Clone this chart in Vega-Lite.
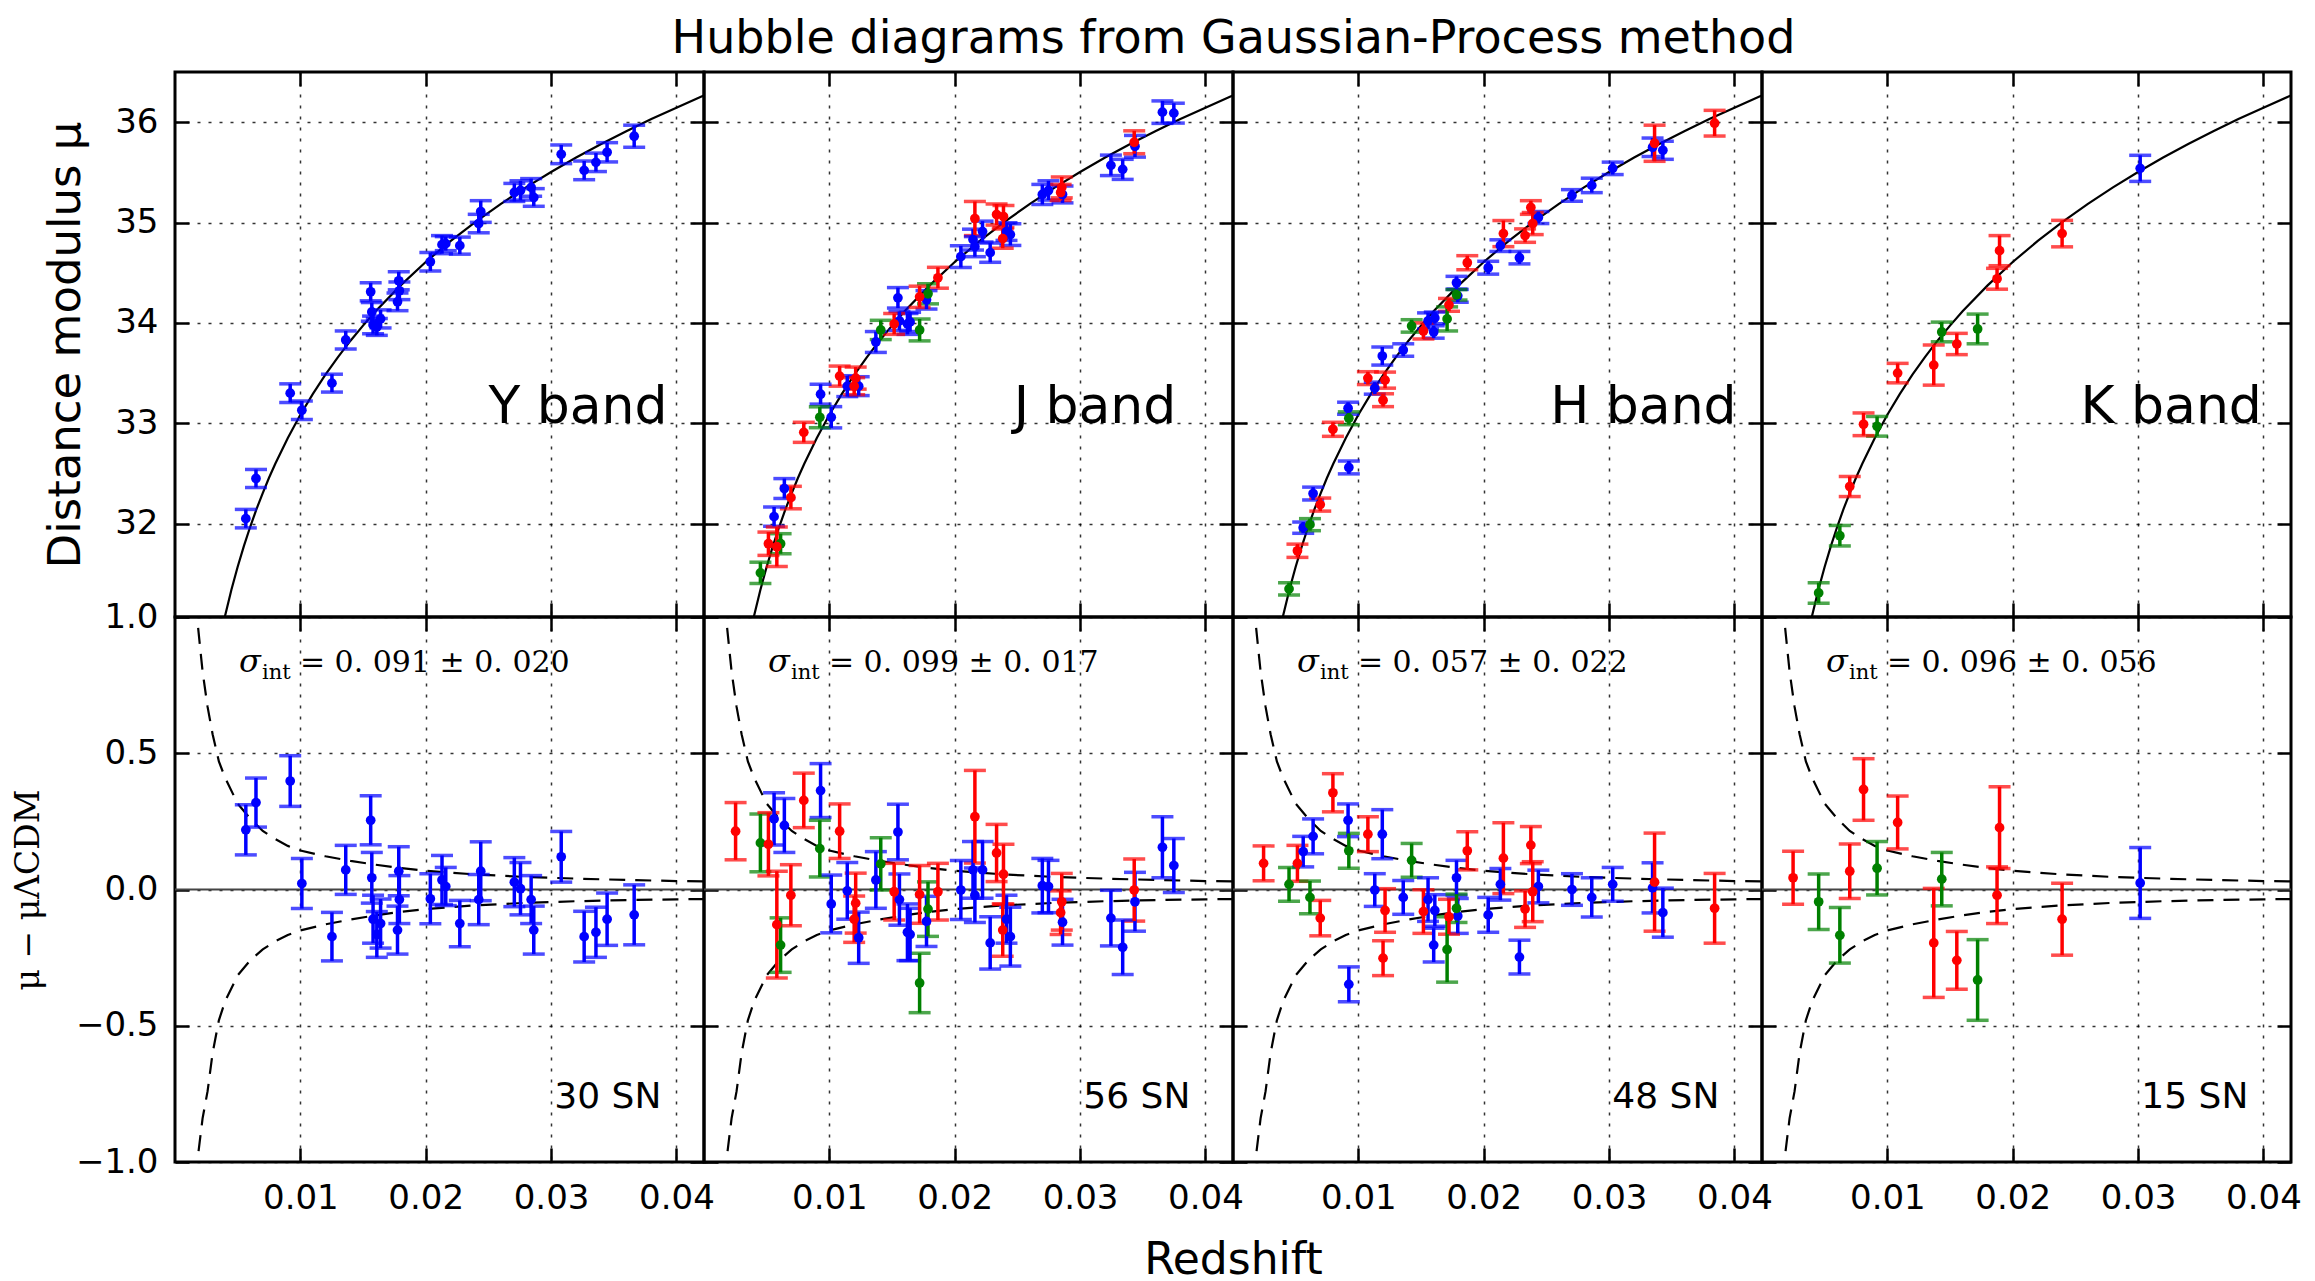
{
"$schema":"https://vega.github.io/schema/vega-lite/v6.json",
"background":"white",
"padding":{"left":10,"top":13,"right":10,"bottom":0},
"datasets":{
"sn":[
{"b":"Y","c":"b","z":0.00565,"mu":32.05,"r":0.219,"e":0.092},
{"b":"Y","c":"b","z":0.00646,"mu":32.45,"r":0.319,"e":0.09},
{"b":"Y","c":"b","z":0.00919,"mu":33.30,"r":0.398,"e":0.093},
{"b":"Y","c":"b","z":0.01012,"mu":33.13,"r":0.022,"e":0.092},
{"b":"Y","c":"b","z":0.01252,"mu":33.40,"r":-0.173,"e":0.089},
{"b":"Y","c":"b","z":0.01362,"mu":33.83,"r":0.072,"e":0.09},
{"b":"Y","c":"b","z":0.01561,"mu":34.31,"r":0.254,"e":0.09},
{"b":"Y","c":"b","z":0.0157,"mu":34.11,"r":0.043,"e":0.093},
{"b":"Y","c":"b","z":0.0158,"mu":33.98,"r":-0.109,"e":0.088},
{"b":"Y","c":"b","z":0.0161,"mu":33.96,"r":-0.165,"e":0.084},
{"b":"Y","c":"b","z":0.0164,"mu":34.04,"r":-0.125,"e":0.09},
{"b":"Y","c":"b","z":0.01785,"mu":34.42,"r":0.067,"e":0.09},
{"b":"Y","c":"b","z":0.0179,"mu":34.32,"r":-0.037,"e":0.088},
{"b":"Y","c":"b","z":0.01775,"mu":34.21,"r":-0.149,"e":0.088},
{"b":"Y","c":"b","z":0.02037,"mu":34.61,"r":-0.034,"e":0.092},
{"b":"Y","c":"b","z":0.0213,"mu":34.78,"r":0.035,"e":0.09},
{"b":"Y","c":"b","z":0.0216,"mu":34.79,"r":0.011,"e":0.07},
{"b":"Y","c":"b","z":0.02272,"mu":34.77,"r":-0.125,"e":0.085},
{"b":"Y","c":"b","z":0.02439,"mu":35.11,"r":0.067,"e":0.108},
{"b":"Y","c":"b","z":0.02423,"mu":34.99,"r":-0.037,"e":0.092},
{"b":"Y","c":"b","z":0.02707,"mu":35.30,"r":0.027,"e":0.09},
{"b":"Y","c":"b","z":0.02756,"mu":35.32,"r":0.003,"e":0.096},
{"b":"Y","c":"b","z":0.02841,"mu":35.35,"r":-0.037,"e":0.088},
{"b":"Y","c":"b","z":0.02862,"mu":35.25,"r":-0.149,"e":0.088},
{"b":"Y","c":"b","z":0.03081,"mu":35.68,"r":0.12,"e":0.093},
{"b":"Y","c":"b","z":0.03264,"mu":35.52,"r":-0.173,"e":0.093},
{"b":"Y","c":"b","z":0.03358,"mu":35.60,"r":-0.157,"e":0.092},
{"b":"Y","c":"b","z":0.03447,"mu":35.70,"r":-0.109,"e":0.096},
{"b":"Y","c":"b","z":0.03663,"mu":35.86,"r":-0.093,"e":0.11},
{"b":"J","c":"b","z":0.00559,"mu":32.07,"r":0.259,"e":0.096},
{"b":"J","c":"b","z":0.00641,"mu":32.35,"r":0.235,"e":0.099},
{"b":"J","c":"b","z":0.0093,"mu":33.29,"r":0.363,"e":0.099},
{"b":"J","c":"b","z":0.01015,"mu":33.06,"r":-0.053,"e":0.106},
{"b":"J","c":"b","z":0.01143,"mu":33.37,"r":-0.005,"e":0.104},
{"b":"J","c":"b","z":0.01234,"mu":33.37,"r":-0.177,"e":0.094},
{"b":"J","c":"b","z":0.01371,"mu":33.81,"r":0.035,"e":0.104},
{"b":"J","c":"b","z":0.01547,"mu":34.25,"r":0.211,"e":0.102},
{"b":"J","c":"b","z":0.01559,"mu":34.02,"r":-0.037,"e":0.094},
{"b":"J","c":"b","z":0.01623,"mu":33.99,"r":-0.157,"e":0.104},
{"b":"J","c":"b","z":0.01644,"mu":34.01,"r":-0.165,"e":0.096},
{"b":"J","c":"b","z":0.01775,"mu":34.23,"r":-0.117,"e":0.092},
{"b":"J","c":"b","z":0.02049,"mu":34.66,"r":-0.002,"e":0.108},
{"b":"J","c":"b","z":0.02146,"mu":34.83,"r":0.072,"e":0.104},
{"b":"J","c":"b","z":0.02161,"mu":34.76,"r":-0.021,"e":0.1},
{"b":"J","c":"b","z":0.02222,"mu":34.91,"r":0.072,"e":0.104},
{"b":"J","c":"b","z":0.02283,"mu":34.70,"r":-0.196,"e":0.096},
{"b":"J","c":"b","z":0.02413,"mu":34.91,"r":-0.109,"e":0.088},
{"b":"J","c":"b","z":0.02444,"mu":34.88,"r":-0.173,"e":0.108},
{"b":"J","c":"b","z":0.02699,"mu":35.28,"r":0.014,"e":0.1},
{"b":"J","c":"b","z":0.02748,"mu":35.32,"r":0.011,"e":0.096},
{"b":"J","c":"b","z":0.0286,"mu":35.28,"r":-0.12,"e":0.084},
{"b":"J","c":"b","z":0.03246,"mu":35.57,"r":-0.105,"e":0.102},
{"b":"J","c":"b","z":0.0334,"mu":35.53,"r":-0.212,"e":0.1},
{"b":"J","c":"b","z":0.03438,"mu":35.76,"r":-0.045,"e":0.108},
{"b":"J","c":"b","z":0.03657,"mu":36.10,"r":0.155,"e":0.112},
{"b":"J","c":"b","z":0.03748,"mu":36.09,"r":0.088,"e":0.099},
{"b":"J","c":"g","z":0.0045,"mu":31.51,"r":0.171,"e":0.106},
{"b":"J","c":"g","z":0.00611,"mu":31.80,"r":-0.204,"e":0.1},
{"b":"J","c":"g","z":0.00924,"mu":33.06,"r":0.15,"e":0.104},
{"b":"J","c":"g","z":0.0141,"mu":33.93,"r":0.094,"e":0.096},
{"b":"J","c":"g","z":0.0172,"mu":33.93,"r":-0.343,"e":0.109},
{"b":"J","c":"g","z":0.01787,"mu":34.29,"r":-0.072,"e":0.1},
{"b":"J","c":"r","z":0.00252,"mu":30.29,"r":0.214,"e":0.105},
{"b":"J","c":"r","z":0.00514,"mu":31.80,"r":0.166,"e":0.116},
{"b":"J","c":"r","z":0.00581,"mu":31.77,"r":-0.129,"e":0.196},
{"b":"J","c":"r","z":0.00693,"mu":32.26,"r":-0.021,"e":0.112},
{"b":"J","c":"r","z":0.00796,"mu":32.91,"r":0.327,"e":0.1},
{"b":"J","c":"r","z":0.01082,"mu":33.47,"r":0.214,"e":0.1},
{"b":"J","c":"r","z":0.0121,"mu":33.45,"r":-0.05,"e":0.11},
{"b":"J","c":"r","z":0.01198,"mu":33.37,"r":-0.109,"e":0.085},
{"b":"J","c":"r","z":0.01517,"mu":33.99,"r":-0.008,"e":0.104},
{"b":"J","c":"r","z":0.0172,"mu":34.26,"r":-0.018,"e":0.106},
{"b":"J","c":"r","z":0.01866,"mu":34.45,"r":-0.008,"e":0.104},
{"b":"J","c":"r","z":0.02161,"mu":35.04,"r":0.267,"e":0.17},
{"b":"J","c":"r","z":0.02334,"mu":35.08,"r":0.134,"e":0.105},
{"b":"J","c":"r","z":0.02389,"mu":35.06,"r":0.056,"e":0.11},
{"b":"J","c":"r","z":0.02383,"mu":34.84,"r":-0.149,"e":0.096},
{"b":"J","c":"r","z":0.02854,"mu":35.35,"r":-0.045,"e":0.104},
{"b":"J","c":"r","z":0.02845,"mu":35.30,"r":-0.085,"e":0.08},
{"b":"J","c":"r","z":0.03432,"mu":35.80,"r":-0.002,"e":0.114},
{"b":"H","c":"b","z":0.0056,"mu":31.96,"r":0.139,"e":0.056},
{"b":"H","c":"b","z":0.00639,"mu":32.30,"r":0.195,"e":0.064},
{"b":"H","c":"b","z":0.00918,"mu":33.15,"r":0.254,"e":0.06},
{"b":"H","c":"b","z":0.00924,"mu":32.56,"r":-0.348,"e":0.064},
{"b":"H","c":"b","z":0.01191,"mu":33.67,"r":0.203,"e":0.09},
{"b":"H","c":"b","z":0.01131,"mu":33.35,"r":-0.002,"e":0.06},
{"b":"H","c":"b","z":0.01358,"mu":33.73,"r":-0.029,"e":0.062},
{"b":"H","c":"b","z":0.01556,"mu":34.02,"r":-0.037,"e":0.08},
{"b":"H","c":"b","z":0.0161,"mu":34.05,"r":-0.077,"e":0.058},
{"b":"H","c":"b","z":0.01601,"mu":33.91,"r":-0.204,"e":0.062},
{"b":"H","c":"b","z":0.01783,"mu":34.40,"r":0.043,"e":0.064},
{"b":"H","c":"b","z":0.01793,"mu":34.27,"r":-0.097,"e":0.064},
{"b":"H","c":"b","z":0.02036,"mu":34.55,"r":-0.093,"e":0.064},
{"b":"H","c":"b","z":0.02133,"mu":34.77,"r":0.019,"e":0.058},
{"b":"H","c":"b","z":0.02285,"mu":34.65,"r":-0.248,"e":0.062},
{"b":"H","c":"b","z":0.02436,"mu":35.05,"r":0.011,"e":0.06},
{"b":"H","c":"b","z":0.02704,"mu":35.27,"r":0.0,"e":0.058},
{"b":"H","c":"b","z":0.02862,"mu":35.37,"r":-0.029,"e":0.072},
{"b":"H","c":"b","z":0.03029,"mu":35.54,"r":0.019,"e":0.062},
{"b":"H","c":"b","z":0.03347,"mu":35.75,"r":0.006,"e":0.092},
{"b":"H","c":"b","z":0.03429,"mu":35.72,"r":-0.085,"e":0.09},
{"b":"H","c":"g","z":0.00447,"mu":31.35,"r":0.019,"e":0.062},
{"b":"H","c":"g","z":0.00614,"mu":31.99,"r":-0.029,"e":0.06},
{"b":"H","c":"g","z":0.00924,"mu":33.05,"r":0.142,"e":0.064},
{"b":"H","c":"g","z":0.01425,"mu":33.97,"r":0.107,"e":0.062},
{"b":"H","c":"g","z":0.01708,"mu":34.04,"r":-0.22,"e":0.12},
{"b":"H","c":"g","z":0.01783,"mu":34.28,"r":-0.069,"e":0.052},
{"b":"H","c":"r","z":0.00244,"mu":30.10,"r":0.096,"e":0.064},
{"b":"H","c":"r","z":0.00514,"mu":31.73,"r":0.096,"e":0.066},
{"b":"H","c":"r","z":0.00696,"mu":32.19,"r":-0.105,"e":0.065},
{"b":"H","c":"r","z":0.00797,"mu":32.94,"r":0.355,"e":0.07},
{"b":"H","c":"r","z":0.01076,"mu":33.45,"r":0.203,"e":0.064},
{"b":"H","c":"r","z":0.01213,"mu":33.43,"r":-0.077,"e":0.08},
{"b":"H","c":"r","z":0.01197,"mu":33.23,"r":-0.252,"e":0.064},
{"b":"H","c":"r","z":0.01519,"mu":33.92,"r":-0.081,"e":0.08},
{"b":"H","c":"r","z":0.01723,"mu":34.18,"r":-0.1,"e":0.064},
{"b":"H","c":"r","z":0.01869,"mu":34.60,"r":0.142,"e":0.07},
{"b":"H","c":"r","z":0.02157,"mu":34.89,"r":0.115,"e":0.13},
{"b":"H","c":"r","z":0.0233,"mu":34.87,"r":-0.072,"e":0.067},
{"b":"H","c":"r","z":0.02376,"mu":35.15,"r":0.163,"e":0.068},
{"b":"H","c":"r","z":0.02391,"mu":34.99,"r":-0.008,"e":0.11},
{"b":"H","c":"r","z":0.03363,"mu":35.79,"r":0.027,"e":0.18},
{"b":"H","c":"r","z":0.03842,"mu":35.99,"r":-0.069,"e":0.128},
{"b":"K","c":"g","z":0.00452,"mu":31.31,"r":-0.045,"e":0.102},
{"b":"K","c":"g","z":0.00621,"mu":31.88,"r":-0.168,"e":0.102},
{"b":"K","c":"g","z":0.00918,"mu":32.97,"r":0.078,"e":0.098},
{"b":"K","c":"g","z":0.01434,"mu":33.91,"r":0.038,"e":0.098},
{"b":"K","c":"g","z":0.0172,"mu":33.94,"r":-0.332,"e":0.148},
{"b":"K","c":"r","z":0.00248,"mu":30.2,"r":0.043,"e":0.097},
{"b":"K","c":"r","z":0.007,"mu":32.37,"r":0.067,"e":0.1},
{"b":"K","c":"r","z":0.0081,"mu":32.99,"r":0.367,"e":0.113},
{"b":"K","c":"r","z":0.01082,"mu":33.50,"r":0.246,"e":0.097},
{"b":"K","c":"r","z":0.0137,"mu":33.58,"r":-0.196,"e":0.2},
{"b":"K","c":"r","z":0.01554,"mu":33.79,"r":-0.26,"e":0.106},
{"b":"K","c":"r","z":0.01895,"mu":34.72,"r":0.227,"e":0.15},
{"b":"K","c":"r","z":0.01875,"mu":34.44,"r":-0.021,"e":0.104},
{"b":"K","c":"r","z":0.02394,"mu":34.89,"r":-0.109,"e":0.132},
{"b":"K","c":"b","z":0.03017,"mu":35.54,"r":0.024,"e":0.13}
],
"curve":[
{"z":0.0039,"mu":31.03},{"z":0.004,"mu":31.085},{"z":0.0045,"mu":31.342},{"z":0.005,"mu":31.571},{"z":0.0055,"mu":31.779},{"z":0.006,"mu":31.969},{"z":0.0065,"mu":32.144},{"z":0.007,"mu":32.305},{"z":0.0075,"mu":32.457},{"z":0.008,"mu":32.596},{"z":0.009,"mu":32.854},{"z":0.01,"mu":33.085},{"z":0.011,"mu":33.293},{"z":0.012,"mu":33.484},{"z":0.013,"mu":33.66},{"z":0.014,"mu":33.823},{"z":0.015,"mu":33.973},{"z":0.016,"mu":34.116},{"z":0.018,"mu":34.374},{"z":0.02,"mu":34.607},{"z":0.022,"mu":34.817},{"z":0.024,"mu":35.009},{"z":0.026,"mu":35.187},{"z":0.028,"mu":35.351},{"z":0.03,"mu":35.504},{"z":0.032,"mu":35.648},{"z":0.034,"mu":35.783},{"z":0.036,"mu":35.91},{"z":0.038,"mu":36.031},{"z":0.04,"mu":36.145},{"z":0.042,"mu":36.255},{"z":0.0425,"mu":36.281}
],
"env":[
{"s":"u","z":0.0015,"v":1.15},{"s":"u","z":0.0018,"v":0.98},{"s":"u","z":0.0022,"v":0.8},{"s":"u","z":0.0026,"v":0.67},{"s":"u","z":0.003,"v":0.57},{"s":"u","z":0.0035,"v":0.47},{"s":"u","z":0.004,"v":0.41},{"s":"u","z":0.005,"v":0.315},{"s":"u","z":0.006,"v":0.26},{"s":"u","z":0.007,"v":0.215},{"s":"u","z":0.008,"v":0.185},{"s":"u","z":0.009,"v":0.16},{"s":"u","z":0.01,"v":0.143},{"s":"u","z":0.012,"v":0.122},{"s":"u","z":0.014,"v":0.105},{"s":"u","z":0.016,"v":0.091},{"s":"u","z":0.018,"v":0.079},{"s":"u","z":0.02,"v":0.069},{"s":"u","z":0.024,"v":0.055},{"s":"u","z":0.028,"v":0.046},{"s":"u","z":0.032,"v":0.04},{"s":"u","z":0.036,"v":0.035},{"s":"u","z":0.04,"v":0.031},{"s":"u","z":0.0422,"v":0.03},
{"s":"l","z":0.0015,"v":-1.15},{"s":"l","z":0.0018,"v":-0.99},{"s":"l","z":0.0022,"v":-0.84},{"s":"l","z":0.0026,"v":-0.74},{"s":"l","z":0.003,"v":-0.6},{"s":"l","z":0.0035,"v":-0.48},{"s":"l","z":0.004,"v":-0.41},{"s":"l","z":0.005,"v":-0.315},{"s":"l","z":0.006,"v":-0.26},{"s":"l","z":0.007,"v":-0.22},{"s":"l","z":0.008,"v":-0.19},{"s":"l","z":0.009,"v":-0.167},{"s":"l","z":0.01,"v":-0.15},{"s":"l","z":0.012,"v":-0.128},{"s":"l","z":0.014,"v":-0.11},{"s":"l","z":0.016,"v":-0.095},{"s":"l","z":0.018,"v":-0.082},{"s":"l","z":0.02,"v":-0.072},{"s":"l","z":0.024,"v":-0.058},{"s":"l","z":0.028,"v":-0.049},{"s":"l","z":0.032,"v":-0.043},{"s":"l","z":0.036,"v":-0.039},{"s":"l","z":0.04,"v":-0.036},{"s":"l","z":0.0422,"v":-0.035}
],
"lab":[
{"b":"Y","band":"Y band","n":"30 SN","sig":"= 0. 091 ± 0. 020"},
{"b":"J","band":"J band","n":"56 SN","sig":"= 0. 099 ± 0. 017"},
{"b":"H","band":"H band","n":"48 SN","sig":"= 0. 057 ± 0. 022"},
{"b":"K","band":"K band","n":"15 SN","sig":"= 0. 096 ± 0. 056"}
]
},
"columns":4,
"spacing":0,
"bounds":"flush",
"concat":[
{"width":529,"height":545,"layer":[
 {"data":{"name":"curve"},"mark":{"type":"line","color":"black","strokeWidth":2.2,"clip":true},"encoding":{"x":{"field":"z","type":"quantitative","scale":{"domain":[0,0.0422],"nice":false,"zero":false},"axis":null},"y":{"field":"mu","type":"quantitative","scale":{"domain":[31.07,36.5],"nice":false,"zero":false},"axis":null}}},
 {"data":{"name":"sn"},"transform":[{"filter":"datum.b=='Y' && datum.mu>31.1"}],"mark":{"type":"errorbar","ticks":true,"size":22,"thickness":3.5,"rule":{"strokeWidth":3.5}},"encoding":{"x":{"field":"z","type":"quantitative","scale":{"domain":[0,0.0422],"nice":false,"zero":false},"axis":{"orient":"bottom","values":[0.01,0.02,0.03,0.04],"labels":false,"tickSize":-14,"grid":true,"title":null}},"y":{"field":"mu","type":"quantitative","scale":{"domain":[31.07,36.5],"nice":false,"zero":false},"axis":{"orient":"left","values":[32,33,34,35,36],"format":"d","labelPadding":31,"tickSize":-14,"grid":true,"title":"Distance modulus μ","titlePadding":26}},"yError":{"field":"e"},"color":{"field":"c","type":"nominal","scale":{"domain":["b","r","g"],"range":["#0000ff","#ff0000","#008000"]},"legend":null}}},
 {"data":{"name":"sn"},"transform":[{"filter":"datum.b=='Y' && datum.mu>31.1"}],"mark":{"type":"circle","size":95,"opacity":1},"encoding":{"x":{"field":"z","type":"quantitative","scale":{"domain":[0,0.0422],"nice":false,"zero":false},"axis":{"orient":"top","values":[0.01,0.02,0.03,0.04],"labels":false,"tickSize":-14,"grid":false,"title":null}},"y":{"field":"mu","type":"quantitative","scale":{"domain":[31.07,36.5],"nice":false,"zero":false},"axis":{"orient":"right","values":[32,33,34,35,36],"labels":false,"tickSize":-14,"grid":false,"title":null}},"color":{"field":"c","type":"nominal","scale":{"domain":["b","r","g"],"range":["#0000ff","#ff0000","#008000"]},"legend":null}}},
 {"data":{"name":"lab"},"transform":[{"filter":"datum.b=='Y'"}],"mark":{"type":"text","align":"left","baseline":"alphabetic","fontSize":52,"color":"black"},"encoding":{"x":{"datum":0.025,"scale":{"domain":[0,0.0422],"nice":false,"zero":false},"axis":null},"y":{"datum":33,"scale":{"domain":[31.07,36.5],"nice":false,"zero":false},"axis":null},"text":{"field":"band"}}}
],"resolve":{"axis":{"x":"independent","y":"independent"}}},
{"width":529,"height":545,"layer":[
 {"data":{"name":"curve"},"mark":{"type":"line","color":"black","strokeWidth":2.2,"clip":true},"encoding":{"x":{"field":"z","type":"quantitative","scale":{"domain":[0,0.0422],"nice":false,"zero":false},"axis":null},"y":{"field":"mu","type":"quantitative","scale":{"domain":[31.07,36.5],"nice":false,"zero":false},"axis":null}}},
 {"data":{"name":"sn"},"transform":[{"filter":"datum.b=='J' && datum.mu>31.1"}],"mark":{"type":"errorbar","ticks":true,"size":22,"thickness":3.5,"rule":{"strokeWidth":3.5}},"encoding":{"x":{"field":"z","type":"quantitative","scale":{"domain":[0,0.0422],"nice":false,"zero":false},"axis":{"orient":"bottom","values":[0.01,0.02,0.03,0.04],"labels":false,"tickSize":-14,"grid":true,"title":null}},"y":{"field":"mu","type":"quantitative","scale":{"domain":[31.07,36.5],"nice":false,"zero":false},"axis":{"orient":"left","values":[32,33,34,35,36],"labels":false,"tickSize":-14,"grid":true,"title":null}},"yError":{"field":"e"},"color":{"field":"c","type":"nominal","scale":{"domain":["b","r","g"],"range":["#0000ff","#ff0000","#008000"]},"legend":null}}},
 {"data":{"name":"sn"},"transform":[{"filter":"datum.b=='J' && datum.mu>31.1"}],"mark":{"type":"circle","size":95,"opacity":1},"encoding":{"x":{"field":"z","type":"quantitative","scale":{"domain":[0,0.0422],"nice":false,"zero":false},"axis":{"orient":"top","values":[0.01,0.02,0.03,0.04],"labels":false,"tickSize":-14,"grid":false,"title":"Hubble diagrams from Gaussian-Process method","titleFontSize":46,"titleX":529,"titleY":-20,"titleAlign":"center","titleBaseline":"alphabetic","titleAngle":0}},"y":{"field":"mu","type":"quantitative","scale":{"domain":[31.07,36.5],"nice":false,"zero":false},"axis":{"orient":"right","values":[32,33,34,35,36],"labels":false,"tickSize":-14,"grid":false,"title":null}},"color":{"field":"c","type":"nominal","scale":{"domain":["b","r","g"],"range":["#0000ff","#ff0000","#008000"]},"legend":null}}},
 {"data":{"name":"lab"},"transform":[{"filter":"datum.b=='J'"}],"mark":{"type":"text","align":"left","baseline":"alphabetic","fontSize":52,"color":"black"},"encoding":{"x":{"datum":0.0247,"scale":{"domain":[0,0.0422],"nice":false,"zero":false},"axis":null},"y":{"datum":33,"scale":{"domain":[31.07,36.5],"nice":false,"zero":false},"axis":null},"text":{"field":"band"}}}
],"resolve":{"axis":{"x":"independent","y":"independent"}}},
{"width":529,"height":545,"layer":[
 {"data":{"name":"curve"},"mark":{"type":"line","color":"black","strokeWidth":2.2,"clip":true},"encoding":{"x":{"field":"z","type":"quantitative","scale":{"domain":[0,0.0422],"nice":false,"zero":false},"axis":null},"y":{"field":"mu","type":"quantitative","scale":{"domain":[31.07,36.5],"nice":false,"zero":false},"axis":null}}},
 {"data":{"name":"sn"},"transform":[{"filter":"datum.b=='H' && datum.mu>31.1"}],"mark":{"type":"errorbar","ticks":true,"size":22,"thickness":3.5,"rule":{"strokeWidth":3.5}},"encoding":{"x":{"field":"z","type":"quantitative","scale":{"domain":[0,0.0422],"nice":false,"zero":false},"axis":{"orient":"bottom","values":[0.01,0.02,0.03,0.04],"labels":false,"tickSize":-14,"grid":true,"title":null}},"y":{"field":"mu","type":"quantitative","scale":{"domain":[31.07,36.5],"nice":false,"zero":false},"axis":{"orient":"left","values":[32,33,34,35,36],"labels":false,"tickSize":-14,"grid":true,"title":null}},"yError":{"field":"e"},"color":{"field":"c","type":"nominal","scale":{"domain":["b","r","g"],"range":["#0000ff","#ff0000","#008000"]},"legend":null}}},
 {"data":{"name":"sn"},"transform":[{"filter":"datum.b=='H' && datum.mu>31.1"}],"mark":{"type":"circle","size":95,"opacity":1},"encoding":{"x":{"field":"z","type":"quantitative","scale":{"domain":[0,0.0422],"nice":false,"zero":false},"axis":{"orient":"top","values":[0.01,0.02,0.03,0.04],"labels":false,"tickSize":-14,"grid":false,"title":null}},"y":{"field":"mu","type":"quantitative","scale":{"domain":[31.07,36.5],"nice":false,"zero":false},"axis":{"orient":"right","values":[32,33,34,35,36],"labels":false,"tickSize":-14,"grid":false,"title":null}},"color":{"field":"c","type":"nominal","scale":{"domain":["b","r","g"],"range":["#0000ff","#ff0000","#008000"]},"legend":null}}},
 {"data":{"name":"lab"},"transform":[{"filter":"datum.b=='H'"}],"mark":{"type":"text","align":"left","baseline":"alphabetic","fontSize":52,"color":"black"},"encoding":{"x":{"datum":0.0253,"scale":{"domain":[0,0.0422],"nice":false,"zero":false},"axis":null},"y":{"datum":33,"scale":{"domain":[31.07,36.5],"nice":false,"zero":false},"axis":null},"text":{"field":"band"}}}
],"resolve":{"axis":{"x":"independent","y":"independent"}}},
{"width":529,"height":545,"layer":[
 {"data":{"name":"curve"},"mark":{"type":"line","color":"black","strokeWidth":2.2,"clip":true},"encoding":{"x":{"field":"z","type":"quantitative","scale":{"domain":[0,0.0422],"nice":false,"zero":false},"axis":null},"y":{"field":"mu","type":"quantitative","scale":{"domain":[31.07,36.5],"nice":false,"zero":false},"axis":null}}},
 {"data":{"name":"sn"},"transform":[{"filter":"datum.b=='K' && datum.mu>31.1"}],"mark":{"type":"errorbar","ticks":true,"size":22,"thickness":3.5,"rule":{"strokeWidth":3.5}},"encoding":{"x":{"field":"z","type":"quantitative","scale":{"domain":[0,0.0422],"nice":false,"zero":false},"axis":{"orient":"bottom","values":[0.01,0.02,0.03,0.04],"labels":false,"tickSize":-14,"grid":true,"title":null}},"y":{"field":"mu","type":"quantitative","scale":{"domain":[31.07,36.5],"nice":false,"zero":false},"axis":{"orient":"left","values":[32,33,34,35,36],"labels":false,"tickSize":-14,"grid":true,"title":null}},"yError":{"field":"e"},"color":{"field":"c","type":"nominal","scale":{"domain":["b","r","g"],"range":["#0000ff","#ff0000","#008000"]},"legend":null}}},
 {"data":{"name":"sn"},"transform":[{"filter":"datum.b=='K' && datum.mu>31.1"}],"mark":{"type":"circle","size":95,"opacity":1},"encoding":{"x":{"field":"z","type":"quantitative","scale":{"domain":[0,0.0422],"nice":false,"zero":false},"axis":{"orient":"top","values":[0.01,0.02,0.03,0.04],"labels":false,"tickSize":-14,"grid":false,"title":null}},"y":{"field":"mu","type":"quantitative","scale":{"domain":[31.07,36.5],"nice":false,"zero":false},"axis":{"orient":"right","values":[32,33,34,35,36],"labels":false,"tickSize":-14,"grid":false,"title":null}},"color":{"field":"c","type":"nominal","scale":{"domain":["b","r","g"],"range":["#0000ff","#ff0000","#008000"]},"legend":null}}},
 {"data":{"name":"lab"},"transform":[{"filter":"datum.b=='K'"}],"mark":{"type":"text","align":"left","baseline":"alphabetic","fontSize":52,"color":"black"},"encoding":{"x":{"datum":0.0254,"scale":{"domain":[0,0.0422],"nice":false,"zero":false},"axis":null},"y":{"datum":33,"scale":{"domain":[31.07,36.5],"nice":false,"zero":false},"axis":null},"text":{"field":"band"}}}
],"resolve":{"axis":{"x":"independent","y":"independent"}}},
{"width":529,"height":545,"layer":[
 {"data":{"name":"lab"},"transform":[{"filter":"datum.b=='Y'"}],"mark":{"type":"rule","color":"#444444","strokeWidth":2},"encoding":{"y":{"datum":0,"scale":{"domain":[-1,1],"nice":false,"zero":false},"axis":null}}},
 {"data":{"name":"env"},"mark":{"type":"line","color":"black","strokeWidth":2.2,"strokeDash":[16,10],"clip":true},"encoding":{"x":{"field":"z","type":"quantitative","scale":{"domain":[0,0.0422],"nice":false,"zero":false},"axis":null},"y":{"field":"v","type":"quantitative","scale":{"domain":[-1,1],"nice":false,"zero":false},"axis":null},"detail":{"field":"s"}}},
 {"data":{"name":"sn"},"transform":[{"filter":"datum.b=='Y'"}],"mark":{"type":"errorbar","ticks":true,"size":22,"thickness":3.5,"rule":{"strokeWidth":3.5}},"encoding":{"x":{"field":"z","type":"quantitative","scale":{"domain":[0,0.0422],"nice":false,"zero":false},"axis":{"orient":"bottom","values":[0.01,0.02,0.03,0.04],"format":".2f","labelPadding":33,"tickSize":-14,"grid":true,"title":null}},"y":{"field":"r","type":"quantitative","scale":{"domain":[-1,1],"nice":false,"zero":false},"axis":{"orient":"left","values":[-1,-0.5,0,0.5,1],"format":".1f","labelPadding":31,"tickSize":-14,"grid":true,"title":"μ − μΛCDM","titleFont":"DejaVu Serif","titleFontSize":33,"titlePadding":30}},"yError":{"field":"e"},"color":{"field":"c","type":"nominal","scale":{"domain":["b","r","g"],"range":["#0000ff","#ff0000","#008000"]},"legend":null}}},
 {"data":{"name":"sn"},"transform":[{"filter":"datum.b=='Y'"}],"mark":{"type":"circle","size":95,"opacity":1},"encoding":{"x":{"field":"z","type":"quantitative","scale":{"domain":[0,0.0422],"nice":false,"zero":false},"axis":{"orient":"top","values":[0.01,0.02,0.03,0.04],"labels":false,"tickSize":-14,"grid":false,"title":null}},"y":{"field":"r","type":"quantitative","scale":{"domain":[-1,1],"nice":false,"zero":false},"axis":{"orient":"right","values":[-1,-0.5,0,0.5,1],"labels":false,"tickSize":-14,"grid":false,"title":null}},"color":{"field":"c","type":"nominal","scale":{"domain":["b","r","g"],"range":["#0000ff","#ff0000","#008000"]},"legend":null}}},
 {"data":{"name":"lab"},"transform":[{"filter":"datum.b=='Y'"}],"mark":{"type":"text","text":"σ","align":"left","baseline":"alphabetic","font":"DejaVu Serif","fontStyle":"italic","fontSize":32,"color":"black"},"encoding":{"x":{"datum":0.0051,"scale":{"domain":[0,0.0422],"nice":false,"zero":false},"axis":null},"y":{"datum":0.8,"scale":{"domain":[-1,1],"nice":false,"zero":false},"axis":null}}},
 {"data":{"name":"lab"},"transform":[{"filter":"datum.b=='Y'"}],"mark":{"type":"text","text":"int","align":"left","baseline":"alphabetic","font":"DejaVu Serif","fontSize":21,"dx":23,"dy":7,"color":"black"},"encoding":{"x":{"datum":0.0051,"scale":{"domain":[0,0.0422],"nice":false,"zero":false},"axis":null},"y":{"datum":0.8,"scale":{"domain":[-1,1],"nice":false,"zero":false},"axis":null}}},
 {"data":{"name":"lab"},"transform":[{"filter":"datum.b=='Y'"}],"mark":{"type":"text","align":"left","baseline":"alphabetic","font":"DejaVu Serif","fontSize":30,"dx":61,"color":"black"},"encoding":{"x":{"datum":0.0051,"scale":{"domain":[0,0.0422],"nice":false,"zero":false},"axis":null},"y":{"datum":0.8,"scale":{"domain":[-1,1],"nice":false,"zero":false},"axis":null},"text":{"field":"sig"}}},
 {"data":{"name":"lab"},"transform":[{"filter":"datum.b=='Y'"}],"mark":{"type":"text","align":"right","baseline":"alphabetic","fontSize":36,"color":"black"},"encoding":{"x":{"datum":0.0388,"scale":{"domain":[0,0.0422],"nice":false,"zero":false},"axis":null},"y":{"datum":-0.8,"scale":{"domain":[-1,1],"nice":false,"zero":false},"axis":null},"text":{"field":"n"}}}
],"resolve":{"axis":{"x":"independent","y":"independent"}}},
{"width":529,"height":545,"layer":[
 {"data":{"name":"lab"},"transform":[{"filter":"datum.b=='J'"}],"mark":{"type":"rule","color":"#444444","strokeWidth":2},"encoding":{"y":{"datum":0,"scale":{"domain":[-1,1],"nice":false,"zero":false},"axis":null}}},
 {"data":{"name":"env"},"mark":{"type":"line","color":"black","strokeWidth":2.2,"strokeDash":[16,10],"clip":true},"encoding":{"x":{"field":"z","type":"quantitative","scale":{"domain":[0,0.0422],"nice":false,"zero":false},"axis":null},"y":{"field":"v","type":"quantitative","scale":{"domain":[-1,1],"nice":false,"zero":false},"axis":null},"detail":{"field":"s"}}},
 {"data":{"name":"sn"},"transform":[{"filter":"datum.b=='J'"}],"mark":{"type":"errorbar","ticks":true,"size":22,"thickness":3.5,"rule":{"strokeWidth":3.5}},"encoding":{"x":{"field":"z","type":"quantitative","scale":{"domain":[0,0.0422],"nice":false,"zero":false},"axis":{"orient":"bottom","values":[0.01,0.02,0.03,0.04],"format":".2f","labelPadding":33,"tickSize":-14,"grid":true,"title":"Redshift","titleFontSize":44,"titleX":529,"titleY":111,"titleAlign":"center","titleBaseline":"alphabetic","titleAngle":0}},"y":{"field":"r","type":"quantitative","scale":{"domain":[-1,1],"nice":false,"zero":false},"axis":{"orient":"left","values":[-1,-0.5,0,0.5,1],"labels":false,"tickSize":-14,"grid":true,"title":null}},"yError":{"field":"e"},"color":{"field":"c","type":"nominal","scale":{"domain":["b","r","g"],"range":["#0000ff","#ff0000","#008000"]},"legend":null}}},
 {"data":{"name":"sn"},"transform":[{"filter":"datum.b=='J'"}],"mark":{"type":"circle","size":95,"opacity":1},"encoding":{"x":{"field":"z","type":"quantitative","scale":{"domain":[0,0.0422],"nice":false,"zero":false},"axis":{"orient":"top","values":[0.01,0.02,0.03,0.04],"labels":false,"tickSize":-14,"grid":false,"title":null}},"y":{"field":"r","type":"quantitative","scale":{"domain":[-1,1],"nice":false,"zero":false},"axis":{"orient":"right","values":[-1,-0.5,0,0.5,1],"labels":false,"tickSize":-14,"grid":false,"title":null}},"color":{"field":"c","type":"nominal","scale":{"domain":["b","r","g"],"range":["#0000ff","#ff0000","#008000"]},"legend":null}}},
 {"data":{"name":"lab"},"transform":[{"filter":"datum.b=='J'"}],"mark":{"type":"text","text":"σ","align":"left","baseline":"alphabetic","font":"DejaVu Serif","fontStyle":"italic","fontSize":32,"color":"black"},"encoding":{"x":{"datum":0.0051,"scale":{"domain":[0,0.0422],"nice":false,"zero":false},"axis":null},"y":{"datum":0.8,"scale":{"domain":[-1,1],"nice":false,"zero":false},"axis":null}}},
 {"data":{"name":"lab"},"transform":[{"filter":"datum.b=='J'"}],"mark":{"type":"text","text":"int","align":"left","baseline":"alphabetic","font":"DejaVu Serif","fontSize":21,"dx":23,"dy":7,"color":"black"},"encoding":{"x":{"datum":0.0051,"scale":{"domain":[0,0.0422],"nice":false,"zero":false},"axis":null},"y":{"datum":0.8,"scale":{"domain":[-1,1],"nice":false,"zero":false},"axis":null}}},
 {"data":{"name":"lab"},"transform":[{"filter":"datum.b=='J'"}],"mark":{"type":"text","align":"left","baseline":"alphabetic","font":"DejaVu Serif","fontSize":30,"dx":61,"color":"black"},"encoding":{"x":{"datum":0.0051,"scale":{"domain":[0,0.0422],"nice":false,"zero":false},"axis":null},"y":{"datum":0.8,"scale":{"domain":[-1,1],"nice":false,"zero":false},"axis":null},"text":{"field":"sig"}}},
 {"data":{"name":"lab"},"transform":[{"filter":"datum.b=='J'"}],"mark":{"type":"text","align":"right","baseline":"alphabetic","fontSize":36,"color":"black"},"encoding":{"x":{"datum":0.0388,"scale":{"domain":[0,0.0422],"nice":false,"zero":false},"axis":null},"y":{"datum":-0.8,"scale":{"domain":[-1,1],"nice":false,"zero":false},"axis":null},"text":{"field":"n"}}}
],"resolve":{"axis":{"x":"independent","y":"independent"}}},
{"width":529,"height":545,"layer":[
 {"data":{"name":"lab"},"transform":[{"filter":"datum.b=='H'"}],"mark":{"type":"rule","color":"#444444","strokeWidth":2},"encoding":{"y":{"datum":0,"scale":{"domain":[-1,1],"nice":false,"zero":false},"axis":null}}},
 {"data":{"name":"env"},"mark":{"type":"line","color":"black","strokeWidth":2.2,"strokeDash":[16,10],"clip":true},"encoding":{"x":{"field":"z","type":"quantitative","scale":{"domain":[0,0.0422],"nice":false,"zero":false},"axis":null},"y":{"field":"v","type":"quantitative","scale":{"domain":[-1,1],"nice":false,"zero":false},"axis":null},"detail":{"field":"s"}}},
 {"data":{"name":"sn"},"transform":[{"filter":"datum.b=='H'"}],"mark":{"type":"errorbar","ticks":true,"size":22,"thickness":3.5,"rule":{"strokeWidth":3.5}},"encoding":{"x":{"field":"z","type":"quantitative","scale":{"domain":[0,0.0422],"nice":false,"zero":false},"axis":{"orient":"bottom","values":[0.01,0.02,0.03,0.04],"format":".2f","labelPadding":33,"tickSize":-14,"grid":true,"title":null}},"y":{"field":"r","type":"quantitative","scale":{"domain":[-1,1],"nice":false,"zero":false},"axis":{"orient":"left","values":[-1,-0.5,0,0.5,1],"labels":false,"tickSize":-14,"grid":true,"title":null}},"yError":{"field":"e"},"color":{"field":"c","type":"nominal","scale":{"domain":["b","r","g"],"range":["#0000ff","#ff0000","#008000"]},"legend":null}}},
 {"data":{"name":"sn"},"transform":[{"filter":"datum.b=='H'"}],"mark":{"type":"circle","size":95,"opacity":1},"encoding":{"x":{"field":"z","type":"quantitative","scale":{"domain":[0,0.0422],"nice":false,"zero":false},"axis":{"orient":"top","values":[0.01,0.02,0.03,0.04],"labels":false,"tickSize":-14,"grid":false,"title":null}},"y":{"field":"r","type":"quantitative","scale":{"domain":[-1,1],"nice":false,"zero":false},"axis":{"orient":"right","values":[-1,-0.5,0,0.5,1],"labels":false,"tickSize":-14,"grid":false,"title":null}},"color":{"field":"c","type":"nominal","scale":{"domain":["b","r","g"],"range":["#0000ff","#ff0000","#008000"]},"legend":null}}},
 {"data":{"name":"lab"},"transform":[{"filter":"datum.b=='H'"}],"mark":{"type":"text","text":"σ","align":"left","baseline":"alphabetic","font":"DejaVu Serif","fontStyle":"italic","fontSize":32,"color":"black"},"encoding":{"x":{"datum":0.0051,"scale":{"domain":[0,0.0422],"nice":false,"zero":false},"axis":null},"y":{"datum":0.8,"scale":{"domain":[-1,1],"nice":false,"zero":false},"axis":null}}},
 {"data":{"name":"lab"},"transform":[{"filter":"datum.b=='H'"}],"mark":{"type":"text","text":"int","align":"left","baseline":"alphabetic","font":"DejaVu Serif","fontSize":21,"dx":23,"dy":7,"color":"black"},"encoding":{"x":{"datum":0.0051,"scale":{"domain":[0,0.0422],"nice":false,"zero":false},"axis":null},"y":{"datum":0.8,"scale":{"domain":[-1,1],"nice":false,"zero":false},"axis":null}}},
 {"data":{"name":"lab"},"transform":[{"filter":"datum.b=='H'"}],"mark":{"type":"text","align":"left","baseline":"alphabetic","font":"DejaVu Serif","fontSize":30,"dx":61,"color":"black"},"encoding":{"x":{"datum":0.0051,"scale":{"domain":[0,0.0422],"nice":false,"zero":false},"axis":null},"y":{"datum":0.8,"scale":{"domain":[-1,1],"nice":false,"zero":false},"axis":null},"text":{"field":"sig"}}},
 {"data":{"name":"lab"},"transform":[{"filter":"datum.b=='H'"}],"mark":{"type":"text","align":"right","baseline":"alphabetic","fontSize":36,"color":"black"},"encoding":{"x":{"datum":0.0388,"scale":{"domain":[0,0.0422],"nice":false,"zero":false},"axis":null},"y":{"datum":-0.8,"scale":{"domain":[-1,1],"nice":false,"zero":false},"axis":null},"text":{"field":"n"}}}
],"resolve":{"axis":{"x":"independent","y":"independent"}}},
{"width":529,"height":545,"layer":[
 {"data":{"name":"lab"},"transform":[{"filter":"datum.b=='K'"}],"mark":{"type":"rule","color":"#444444","strokeWidth":2},"encoding":{"y":{"datum":0,"scale":{"domain":[-1,1],"nice":false,"zero":false},"axis":null}}},
 {"data":{"name":"env"},"mark":{"type":"line","color":"black","strokeWidth":2.2,"strokeDash":[16,10],"clip":true},"encoding":{"x":{"field":"z","type":"quantitative","scale":{"domain":[0,0.0422],"nice":false,"zero":false},"axis":null},"y":{"field":"v","type":"quantitative","scale":{"domain":[-1,1],"nice":false,"zero":false},"axis":null},"detail":{"field":"s"}}},
 {"data":{"name":"sn"},"transform":[{"filter":"datum.b=='K'"}],"mark":{"type":"errorbar","ticks":true,"size":22,"thickness":3.5,"rule":{"strokeWidth":3.5}},"encoding":{"x":{"field":"z","type":"quantitative","scale":{"domain":[0,0.0422],"nice":false,"zero":false},"axis":{"orient":"bottom","values":[0.01,0.02,0.03,0.04],"format":".2f","labelPadding":33,"tickSize":-14,"grid":true,"title":null}},"y":{"field":"r","type":"quantitative","scale":{"domain":[-1,1],"nice":false,"zero":false},"axis":{"orient":"left","values":[-1,-0.5,0,0.5,1],"labels":false,"tickSize":-14,"grid":true,"title":null}},"yError":{"field":"e"},"color":{"field":"c","type":"nominal","scale":{"domain":["b","r","g"],"range":["#0000ff","#ff0000","#008000"]},"legend":null}}},
 {"data":{"name":"sn"},"transform":[{"filter":"datum.b=='K'"}],"mark":{"type":"circle","size":95,"opacity":1},"encoding":{"x":{"field":"z","type":"quantitative","scale":{"domain":[0,0.0422],"nice":false,"zero":false},"axis":{"orient":"top","values":[0.01,0.02,0.03,0.04],"labels":false,"tickSize":-14,"grid":false,"title":null}},"y":{"field":"r","type":"quantitative","scale":{"domain":[-1,1],"nice":false,"zero":false},"axis":{"orient":"right","values":[-1,-0.5,0,0.5,1],"labels":false,"tickSize":-14,"grid":false,"title":null}},"color":{"field":"c","type":"nominal","scale":{"domain":["b","r","g"],"range":["#0000ff","#ff0000","#008000"]},"legend":null}}},
 {"data":{"name":"lab"},"transform":[{"filter":"datum.b=='K'"}],"mark":{"type":"text","text":"σ","align":"left","baseline":"alphabetic","font":"DejaVu Serif","fontStyle":"italic","fontSize":32,"color":"black"},"encoding":{"x":{"datum":0.0051,"scale":{"domain":[0,0.0422],"nice":false,"zero":false},"axis":null},"y":{"datum":0.8,"scale":{"domain":[-1,1],"nice":false,"zero":false},"axis":null}}},
 {"data":{"name":"lab"},"transform":[{"filter":"datum.b=='K'"}],"mark":{"type":"text","text":"int","align":"left","baseline":"alphabetic","font":"DejaVu Serif","fontSize":21,"dx":23,"dy":7,"color":"black"},"encoding":{"x":{"datum":0.0051,"scale":{"domain":[0,0.0422],"nice":false,"zero":false},"axis":null},"y":{"datum":0.8,"scale":{"domain":[-1,1],"nice":false,"zero":false},"axis":null}}},
 {"data":{"name":"lab"},"transform":[{"filter":"datum.b=='K'"}],"mark":{"type":"text","align":"left","baseline":"alphabetic","font":"DejaVu Serif","fontSize":30,"dx":61,"color":"black"},"encoding":{"x":{"datum":0.0051,"scale":{"domain":[0,0.0422],"nice":false,"zero":false},"axis":null},"y":{"datum":0.8,"scale":{"domain":[-1,1],"nice":false,"zero":false},"axis":null},"text":{"field":"sig"}}},
 {"data":{"name":"lab"},"transform":[{"filter":"datum.b=='K'"}],"mark":{"type":"text","align":"right","baseline":"alphabetic","fontSize":36,"color":"black"},"encoding":{"x":{"datum":0.0388,"scale":{"domain":[0,0.0422],"nice":false,"zero":false},"axis":null},"y":{"datum":-0.8,"scale":{"domain":[-1,1],"nice":false,"zero":false},"axis":null},"text":{"field":"n"}}}
],"resolve":{"axis":{"x":"independent","y":"independent"}}}
],
"config":{
 "font":"DejaVu Sans",
 "view":{"stroke":"black","strokeWidth":3},
 "axis":{"domain":false,"tickColor":"black","tickWidth":2.5,"gridColor":"black","gridDash":[3,8],"gridWidth":1.5,"gridOpacity":0.8,"labelFont":"DejaVu Sans","labelFontSize":34,"labelColor":"black","labelFlush":false,"labelOverlap":false,"titleFont":"DejaVu Sans","titleFontSize":45,"titleFontWeight":"normal","titleColor":"black"}
}
}
